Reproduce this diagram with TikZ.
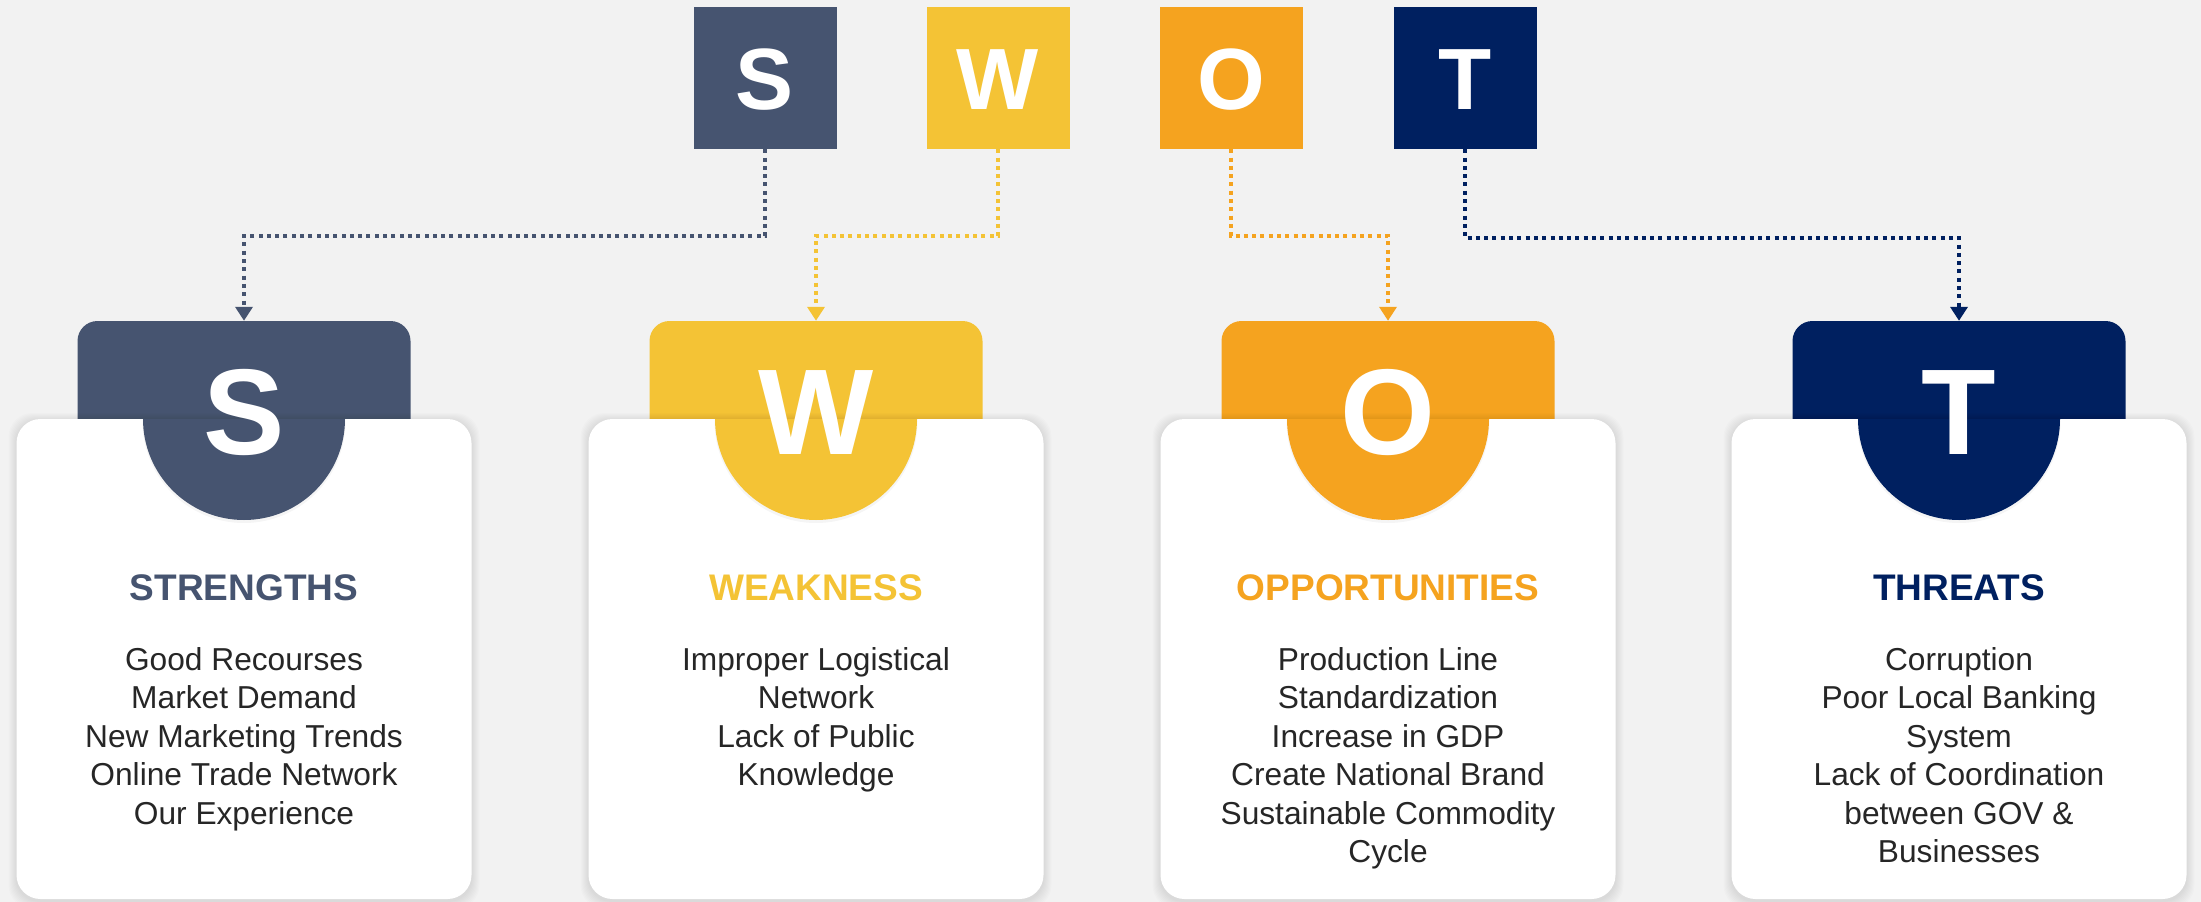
\documentclass[tikz,border=0pt]{standalone}
\usepackage{fontspec}
\setmainfont{Liberation Sans}
\usetikzlibrary{arrows.meta}
\definecolor{cS}{HTML}{465470}
\definecolor{cW}{HTML}{F4C335}
\definecolor{cO}{HTML}{F5A31F}
\definecolor{cT}{HTML}{002060}
\definecolor{bg}{HTML}{F2F2F2}
\definecolor{txt}{HTML}{262626}
\newcommand\swotcol[6]{%
  \node[tabbox, fill=#3] (tab#1) at (#2,386) {};
  \foreach \k in {1,...,8}{\fill[black,opacity=0.012,rounded corners=24pt] (#2-227.5-\k,419-\k+2) rectangle (#2+227.5+\k,899+\k+2);}
  \node[card] (card#1) at (#2,659) {};
  \begin{scope}
    \clip (#2-115,419) rectangle (#2+115,535);
    \fill[black,opacity=0.04] (#2,421.5) circle[radius=101.5pt];
    \fill[#3] (#2,419) circle[radius=101pt];
  \end{scope}
  \node[big] (big#1) at (#2,454) {#4};
  \node[head, text=#3] (head#1) at (#2,600) {#5};
  \node[body] (body#1) at (#2,647) {#6};
}
\begin{document}
\begin{tikzpicture}[x=1pt,y=-1pt,
 topbox/.style={minimum width=143pt, minimum height=142pt, inner sep=0pt},
 toplet/.style={text=white, font=\fontsize{87}{87}\selectfont\bfseries, inner sep=0pt},
 tabbox/.style={minimum width=333pt, minimum height=130pt, rounded corners=20pt, inner sep=0pt},
 card/.style={fill=white, rounded corners=24pt, minimum width=455pt, minimum height=480pt, inner sep=0pt},
 conn/.style={line width=4pt, dash pattern=on 4pt off 4.3pt, -{Triangle[width=17pt,length=14pt]}},
 head/.style={font=\fontsize{37}{37}\selectfont\bfseries, anchor=base, inner sep=0pt},
 body/.style={font=\fontsize{31.7}{38.5}\selectfont, text=txt, align=center, anchor=north, inner sep=0pt},
 big/.style={text=white, font=\fontsize{122}{122}\selectfont\bfseries, anchor=base, inner sep=0pt}
]
\fill[bg] (0,0) rectangle (2201,902);
\useasboundingbox (0,0) rectangle (2201,902);

\node[topbox, fill=cS] (tS) at (765,78) {};
\node[topbox, fill=cW] (tW) at (998,78) {};
\node[topbox, fill=cO] (tO) at (1231,78) {};
\node[topbox, fill=cT] (tT) at (1465,78) {};
\node[toplet] (lS) at (765,80) {S};
\node[toplet] (lW) at (998,80) {W};
\node[toplet] (lO) at (1231,80) {O};
\node[toplet] (lT) at (1465,80) {T};

\swotcol{S}{244}{cS}{S}{STRENGTHS}{Good Recourses\\Market Demand\\New Marketing Trends\\Online Trade Network\\Our Experience}
\swotcol{W}{816}{cW}{W}{WEAKNESS}{Improper Logistical\\Network\\Lack of Public\\Knowledge}
\swotcol{O}{1388}{cO}{O}{OPPORTUNITIES}{Production Line\\Standardization\\Increase in GDP\\Create National Brand\\Sustainable Commodity\\Cycle}
\swotcol{T}{1959}{cT}{T}{THREATS}{Corruption\\Poor Local Banking\\System\\Lack of Coordination\\between GOV \&\\Businesses}

\coordinate (mS) at (765,236);
\coordinate (mW) at (998,236);
\coordinate (mO) at (1231,236);
\coordinate (mT) at (1465,238);
\draw[conn, cS] (tS.south) -- (mS) -| (tabS.north);
\draw[conn, cW] (tW.south) -- (mW) -| (tabW.north);
\draw[conn, cO] (tO.south) -- (mO) -| (tabO.north);
\draw[conn, cT] (tT.south) -- (mT) -| (tabT.north);
\end{tikzpicture}
\end{document}
